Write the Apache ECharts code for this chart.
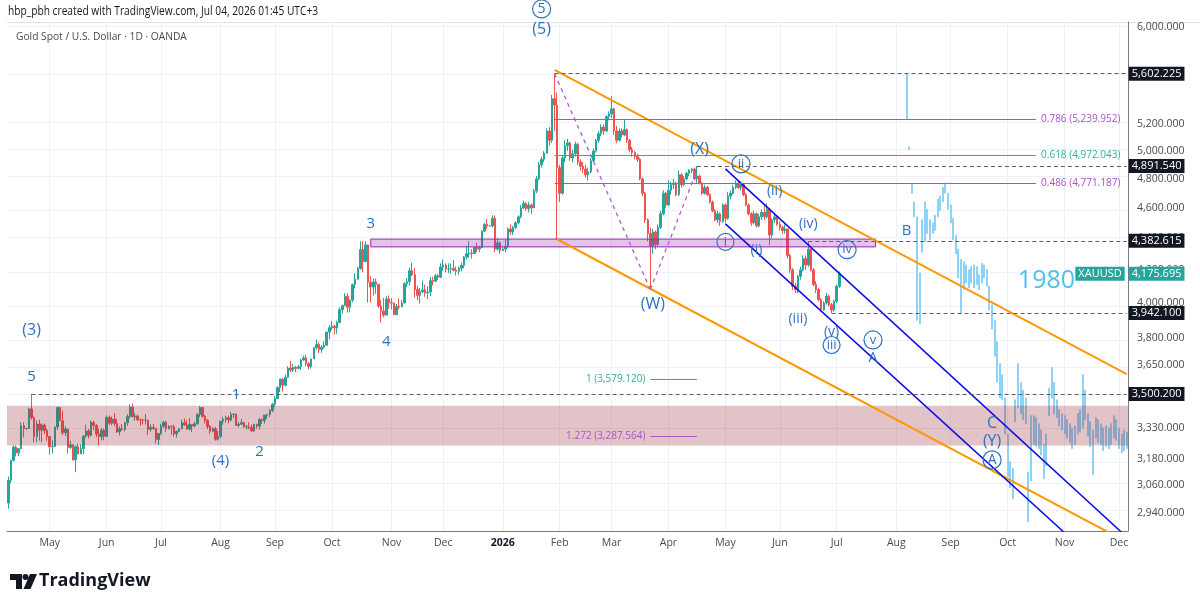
<!DOCTYPE html>
<html>
<head>
<meta charset="utf-8">
<script src="https://cdn.jsdelivr.net/npm/echarts@6/dist/echarts.min.js"></script>
<style>
  html, body { margin: 0; padding: 0; background: #fff; }
  #main { width: 1200px; height: 608px; }
</style>
</head>
<body>
<div id="main"></div>
<script>
// ---- data (daily bars, weekdays from 2025-04-09) ----
var monthNames = ['Jan', 'Feb', 'Mar', 'Apr', 'May', 'Jun', 'Jul', 'Aug', 'Sep', 'Oct', 'Nov', 'Dec'];
var yTicks = [6000, 5600, 5200, 5000, 4800, 4600, 4400, 4200, 4000, 3800, 3650, 3500, 3330, 3180, 3060, 2940];
var firstOpen = 2982;

var closes2025 = [
  3083,3175,3237,3210,3230,3341,3327,3327,3424,3381,3288,3349,3319,3344,3317,3288,
  3239,3241,3334,3431,3365,3306,3325,3235,3248,3177,3240,3205,3230,3290,3315,3294,3357,3342,3300,3288,3318,3289,
  3381,3353,3373,3352,3310,3326,3322,3355,3386,3433,3385,3389,3370,3369,3368,3368,3323,3332,3327,3274,3303,
  3338,3357,3326,3337,3336,3301,3313,3325,3355,3344,3324,3347,3339,3350,3397,3431,3387,3368,3337,3314,3326,3275,3289,
  3363,3373,3380,3369,3397,3398,3342,3348,3356,3335,3336,3332,3315,3347,3339,3371,3366,3393,3397,3416,3448,
  3476,3533,3578,3545,3587,3636,3625,3640,3634,3643,3679,3690,3660,3644,3685,3746,3764,3736,3749,3760,3833,3858,
  3866,3857,3887,3961,3985,4040,3976,4017,4110,4143,4209,4327,4251,4356,4125,4095,4126,4112,3982,3953,3930,4024,4002,
  4000,3932,3980,3977,4000,4115,4128,4195,4170,4080,4045,4067,4078,4060,4065,4134,4130,4163,4155,4218,
  4230,4205,4205,4208,4198,4190,4210,4228,4280,4300,4305,4302,4340,4330,4340,4445,4490,4480,4480,4530,4330,4370,4320
];
var highs2025 = [
  3100,3178,3245,3245,3234,3357,3357,3330,3430,3500,3386,3367,3370,3352,3352,3327,
  3270,3270,3337,3436,3435,3415,3338,3320,3266,3252,3245,3253,3250,3295,3345,3325,3366,3365,3348,3325,3330,3326,
  3392,3390,3385,3403,3375,3338,3349,3360,3398,3446,3451,3403,3395,3376,3374,3398,3368,3347,3350,3328,3305,
  3350,3365,3365,3344,3342,3346,3317,3330,3369,3375,3366,3377,3345,3360,3402,3439,3433,3394,3373,3345,3334,3334,3315,
  3363,3385,3390,3391,3409,3400,3400,3358,3374,3360,3345,3358,3346,3350,3351,3379,3376,3394,3399,3423,3454,
  3489,3539,3578,3565,3600,3646,3674,3657,3648,3652,3685,3703,3707,3667,3686,3749,3791,3777,3760,3782,3835,3872,
  3895,3875,3897,3975,3990,4059,4059,4022,4116,4179,4218,4380,4379,4381,4359,4161,4146,4147,4097,4019,4030,4041,4045,
  4030,4002,3995,4028,4020,4125,4149,4212,4245,4211,4102,4090,4135,4110,4100,4156,4157,4175,4174,4240,
  4265,4240,4240,4240,4260,4220,4220,4245,4285,4350,4380,4330,4345,4370,4350,4450,4500,4525,4485,4550,4550,4400,4380
];
var lows2025 = [
  2957,3070,3170,3193,3195,3229,3284,3320,3330,3370,3260,3260,3268,3261,3300,3268,
  3202,3207,3237,3320,3365,3295,3290,3208,3228,3174,3120,3207,3207,3204,3283,3278,3287,3320,3285,3245,3270,3270,
  3295,3345,3343,3338,3306,3293,3315,3313,3340,3377,3382,3366,3363,3340,3347,3347,3295,3312,3319,3255,3247,
  3296,3330,3310,3322,3296,3287,3283,3310,3323,3341,3320,3319,3310,3333,3345,3384,3381,3351,3324,3302,3309,3268,3268,
  3279,3345,3357,3353,3362,3378,3341,3332,3344,3331,3323,3323,3311,3311,3326,3321,3350,3351,3375,3384,3408,
  3435,3475,3510,3512,3540,3584,3614,3615,3614,3630,3626,3675,3646,3628,3633,3686,3736,3716,3718,3740,3758,3792,
  3843,3820,3823,3887,3940,3985,3945,3945,4005,4086,4140,4200,4185,4250,4003,4004,4045,4054,3972,3886,3917,3927,3965,
  3962,3930,3930,3964,3982,4005,4096,4105,4162,4032,4018,3997,4058,4037,4023,4040,4105,4130,4137,4150,
  4195,4185,4180,4175,4190,4165,4170,4190,4210,4265,4275,4270,4300,4310,4310,4340,4440,4460,4475,4470,4310,4320,4300
];
var closes2026 = [
  4330,4345,4460,4440,4470,4500,4540,4600,4630,4595,4620,4600,4715,4800,4900,4940,4985,5150,5080,5400,5350,4880,
  4700,4950,5040,5060,4950,4980,5050,4920,4890,4870,4830,4850,4930,5000,5080,5130,5180,5150,5260,5280,
  5320,5150,5080,5150,5120,5160,5080,5010,4990,4960,4940,4800,4700,4520,4430,4350,4440,4360,4470,4560,4700,4620,
  4720,4760,4770,4690,4830,4760,4800,4840,4860,4870,4800,4820,4770,4700,4740,4690,4640,4580,4520,4560,4510,4620,
  4530,4680,4700,4740,4770,4740,4760,4690,4620,4560,4500,4560,4480,4540,4570,4540,4590,4420,4520,4540,4490,
  4470,4450,4460,4290,4200,4100,4080,4160,4200,4270,4230,4330,4200,4110,4080,4020,3960,4000,4040,3990,3960,4010,
  4100,4175.695
];
var highs2026 = [
  4345,4390,4470,4490,4480,4510,4550,4620,4650,4640,4640,4630,4730,4820,4920,4960,5000,5170,5180,5430,5602,5450,
  4900,4970,5080,5090,5070,5010,5070,5060,4940,4920,4900,4880,4950,5020,5090,5150,5200,5200,5270,5300,
  5420,5330,5190,5170,5170,5235,5170,5090,5030,5000,4980,4950,4810,4710,4530,4470,4460,4450,4490,4580,4720,4710,
  4790,4780,4800,4780,4860,4840,4820,4850,4870,4880,4880,4891.5,4830,4780,4760,4750,4700,4650,4590,4580,4570,4630,
  4630,4710,4720,4760,4790,4790,4780,4770,4700,4630,4570,4580,4570,4560,4590,4620,4630,4600,4530,4560,4550,
  4510,4480,4490,4460,4300,4210,4120,4170,4220,4290,4290,4376,4340,4210,4130,4090,4030,4010,4060,4050,4000,4020,
  4110,4190
];
var lows2026 = [
  4320,4310,4340,4420,4420,4460,4490,4530,4590,4580,4570,4560,4600,4700,4790,4880,4920,4980,5040,5060,5150,4390,
  4640,4690,4920,5000,4930,4920,4960,4900,4860,4840,4810,4790,4840,4920,4990,5060,5110,5120,5140,5230,
  5250,5120,5060,5070,5100,5110,5060,4990,4960,4940,4920,4790,4680,4500,4380,4080,4300,4330,4350,4460,4550,4600,
  4610,4690,4730,4680,4680,4740,4750,4790,4820,4840,4790,4770,4760,4690,4690,4680,4630,4570,4510,4500,4480,4500,
  4500,4520,4660,4690,4730,4730,4720,4680,4610,4550,4480,4490,4470,4470,4520,4520,4530,4355,4400,4500,4480,
  4450,4430,4430,4270,4180,4078,4060,4058,4140,4190,4200,4220,4190,4100,4060,4010,3950,3955,3990,3980,3942,3950,
  4000,4090
];

// 1980 overlay, bars from index 347 on
var ghostStart = 347;
var ghostHigh = [
  5600,5030,4770,4640,4540,4180,4520,4640,4590,4520,4500,4550,4660,4680,4740,4771,4700,4620,4530,4420,
  4330,4265,4250,4230,4200,4220,4230,4220,4170,4240,4230,4200,4100,3990,3900,3780,3660,3600,3480,3300,
  3170,3140,3470,3660,3560,3520,3480,3120,3390,3390,3380,3350,3320,3250,3300,3530,3640,3560,3470,3420,
  3400,3390,3370,3350,3330,3340,3400,3420,3600,3520,3400,3360,3320,3380,3370,3350,3330,3340,3330,3350,
  3390,3370,3330,3300,3320,3310
];
var ghostLow = [
  5240,5010,4700,4540,3900,3880,4310,4380,4430,4390,4430,4450,4540,4580,4640,4700,4590,4500,4390,4300,
  4150,3940,4080,4120,4090,4120,4090,4110,4080,4120,4150,4100,3960,3850,3700,3560,3480,3470,3300,3100,
  3050,3000,3360,3430,3400,3370,3350,2900,3080,3250,3240,3230,3200,3090,3150,3390,3480,3400,3380,3340,
  3320,3300,3280,3260,3230,3250,3300,3310,3330,3370,3290,3240,3110,3280,3260,3250,3220,3240,3230,3250,
  3280,3270,3230,3210,3220,3230
];

// wave labels: text, bar index, price, circle size (0 = plain), font size
var waveLabels = [
  ['(3)', 9.4, 3845, 0, 16], ['5', 9.4, 3589, 0, 15], ['1', 88.3, 3495, 0, 15],
  ['(4)', 81.5, 3172, 0, 15], ['2', 96.5, 3215, 0, 15], ['3', 139.5, 4493, 0, 15],
  ['4', 146, 3778, 0, 15], ['5', 205.5, 6161, 18, 14], ['(5)', 205.5, 5982, 0, 16],
  ['(X)', 266.5, 5016, 0, 16], ['(W)', 248.5, 3990, 0, 16], ['ii', 283, 4907, 18, 13],
  ['(ii)', 296.3, 4716, 0, 14], ['(iv)', 309, 4493, 0, 14], ['i', 276.8, 4376, 17, 13],
  ['(i)', 289.2, 4324, 0, 14], ['iv', 324, 4326, 18, 13], ['(iii)', 305, 3908, 0, 14],
  ['(v)', 318.1, 3834, 0, 14], ['iii', 318.1, 3761, 17, 13], ['v', 334, 3789, 18, 13],
  ['A', 334, 3690, 0, 14], ['B', 346.5, 4447, 0, 15], ['C', 379.6, 3354, 0, 16],
  ['(Y)', 379.6, 3266, 0, 16], ['A', 379.6, 3177, 18, 14]
];

// dashed price levels and the bar they start from
var levelPrices = [5602.225, 4891.540, 4382.615, 3942.100, 3500.200];
var levelFrom = [211, 266, 309, 318, 9];
var lastPrice = 4175.695;

// ---- build ----
var L = Math.log;
var cats = [];
var d = new Date(Date.UTC(2025, 3, 9));
var end = new Date(Date.UTC(2026, 11, 4));
for (; d <= end; d.setUTCDate(d.getUTCDate() + 1)) {
  var wd = d.getUTCDay();
  if (wd === 0 || wd === 6) continue;
  cats.push(d.toISOString().slice(0, 10));
}
var lastIdx = cats.length - 1;
var monthStarts = {};
for (var i = 1; i < cats.length; i++) {
  if (cats[i].slice(5, 7) !== cats[i - 1].slice(5, 7)) monthStarts[i] = true;
}

var closes = closes2025.concat(closes2026);
var highs = highs2025.concat(highs2026);
var lows = lows2025.concat(lows2026);
var candles = cats.map(function (c, i) {
  if (i >= closes.length) return '-';
  var o = i ? closes[i - 1] : firstOpen;
  var cl = closes[i];
  return [L(o), L(cl), L(Math.min(lows[i], o, cl)), L(Math.max(highs[i], o, cl))];
});
var ghost = cats.map(function (c, i) {
  var k = i - ghostStart;
  if (k < 0 || k >= ghostHigh.length) return '-';
  return [L(ghostHigh[k]), L(ghostLow[k]), L(ghostLow[k]), L(ghostHigh[k])];
});

function fmt(p) {
  return p.toLocaleString('en-US', { minimumFractionDigits: 3, maximumFractionDigits: 3 });
}

var waveBlue = '#2d71c2';
var purple = '#b04fc9';
var teal = '#2fae97';
var FONT = '"Open Sans", "Noto Sans", sans-serif';
var clear = 'rgba(0,0,0,0)';

function seg(p1, p2, color, width, type) {
  return {
    type: 'line', data: [[p1[0], L(p1[1])], [p2[0], L(p2[1])]],
    symbol: 'none', silent: true, clip: true, z: 4,
    lineStyle: { color: color, width: width, type: type || 'solid' }
  };
}

var gridLines = yTicks.map(function (v) { return { yAxis: L(v) }; });
Object.keys(monthStarts).forEach(function (k) { gridLines.push({ xAxis: +k }); });

function boxLabel(text, bg, pos) {
  return { show: true, position: pos || 'end', distance: 2, formatter: text, color: '#fff',
           backgroundColor: bg, padding: [2, 3, 1, 3], fontSize: 11 };
}
var levelLines = levelPrices.map(function (v, i) {
  return [
    { coord: [levelFrom[i], L(v)], label: boxLabel(fmt(v), '#131722') },
    { coord: [lastIdx, L(v)] }
  ];
});

function fibLine(v, text, color, from, to, pos) {
  return [
    { coord: [from, L(v)], lineStyle: { color: color, width: 1, type: 'solid' },
      label: { show: true, position: pos, distance: 5, formatter: text, color: color, fontSize: 10 } },
    { coord: [to, L(v)] }
  ];
}

var option = {
  animation: false,
  backgroundColor: '#fff',
  textStyle: { fontFamily: FONT },
  grid: { left: 7, right: 72, top: 22, bottom: 77 },
  xAxis: {
    type: 'category', data: cats, boundaryGap: true,
    axisLine: { lineStyle: { color: '#787b86' } },
    axisTick: { show: false },
    splitLine: { show: false },
    axisLabel: {
      interval: function (i) { return !!monthStarts[i]; },
      formatter: function (v) {
        var m = +v.slice(5, 7) - 1;
        return m === 0 ? '{b|' + v.slice(0, 4) + '}' : monthNames[m];
      },
      color: '#4a4a4a', fontSize: 10.5, margin: 7,
      rich: { b: { fontWeight: 'bold', color: '#131722', fontSize: 10.5 } }
    }
  },
  yAxis: {
    type: 'value', position: 'right',
    min: L(2862), max: L(6044),
    axisLine: { show: true, lineStyle: { color: '#787b86' } },
    axisTick: { show: false },
    splitLine: { show: false },
    axisLabel: {
      customValues: yTicks.map(L),
      formatter: function (v) { return fmt(Math.exp(v)); },
      color: '#4a4a4a', fontSize: 10.5, margin: 9
    }
  },
  series: [
    { // grid
      type: 'line', data: [], silent: true,
      markLine: { z: 1, silent: true, symbol: ['none', 'none'], label: { show: false },
        lineStyle: { color: '#eef1f6', width: 1, type: 'solid' }, data: gridLines }
    },
    {
      name: 'XAUUSD', type: 'candlestick', data: candles, z: 2, barWidth: 2,
      itemStyle: { color: '#26a69a', color0: '#ef5350', borderColor: '#26a69a', borderColor0: '#ef5350', borderWidth: 1 }
    },
    {
      name: '1980', type: 'candlestick', data: ghost, z: 2, barWidth: 1.5,
      itemStyle: { color: '#8ed3f6', color0: '#8ed3f6', borderColor: '#8ed3f6', borderColor0: '#8ed3f6', borderWidth: 1 }
    },
    { // zones
      type: 'line', data: [], silent: true,
      markArea: { z: 3, silent: true, data: [
        [{ yAxis: L(3440), itemStyle: { color: 'rgba(150,40,55,0.28)' } }, { yAxis: L(3245) }],
        [{ coord: [140, L(4394)], itemStyle: { color: 'rgba(156,39,176,0.28)', borderColor: '#9c27b0', borderWidth: 1 } },
         { coord: [335, L(4344)] }]
      ] }
    },
    seg([211, 5633], [lastIdx, 3603], '#ff9800', 2),
    seg([212, 4393], [lastIdx, 2816], '#ff9800', 2),
    seg([277, 4871], [lastIdx, 2837], '#0a0ae6', 1.5),
    seg([277, 4493], [lastIdx, 2627], '#0a0ae6', 1.5),
    seg([211, 5602], [248, 4080], '#b35bd0', 1.3, [4, 4]),
    seg([248, 4080], [266, 4860], '#b35bd0', 1.3, [4, 4]),
    { // levels, fibs, price boxes
      type: 'line', data: [], silent: true,
      markLine: {
        z: 5, silent: true, symbol: ['none', 'none'],
        lineStyle: { color: '#5d606b', width: 1, type: [4, 3] },
        data: levelLines.concat([
          fibLine(5239.952, '0.786 (5,239.952)', purple, 211, 397, 'end'),
          fibLine(4972.043, '0.618 (4,972.043)', teal, 211, 397, 'end'),
          fibLine(4771.187, '0.486 (4,771.187)', purple, 211, 397, 'end'),
          fibLine(3579.120, '1 (3,579.120)', teal, 248, 266, 'start'),
          fibLine(3287.564, '1.272 (3,287.564)', purple, 248, 266, 'start'),
          [
            { coord: [321, L(lastPrice)], lineStyle: { color: clear }, label: boxLabel(fmt(lastPrice), '#26a69a') },
            { coord: [lastIdx, L(lastPrice)] }
          ],
          [
            { coord: [321, L(lastPrice)], lineStyle: { color: clear }, label: boxLabel('XAUUSD', '#26a69a', 'insideEnd') },
            { coord: [lastIdx, L(lastPrice)] }
          ]
        ])
      }
    },
    { // wave labels
      type: 'scatter', z: 6, clip: false, silent: true,
      itemStyle: { opacity: 1 },
      data: waveLabels.map(function (w) {
        return {
          value: [w[1], L(w[2])],
          symbol: 'circle', symbolSize: w[3],
          itemStyle: { color: clear, borderColor: waveBlue, borderWidth: 1.2, opacity: 1 },
          label: { show: true, position: 'inside', formatter: w[0], fontSize: w[4], color: waveBlue,
                   textBorderWidth: 0 }
        };
      }).concat([{
        value: [401.3, L(4132)], symbolSize: 0,
        label: { show: true, position: 'inside', formatter: '1980', fontSize: 25, color: '#4fc0f4', textBorderWidth: 0 }
      }])
    }
  ],
  graphic: [
    { type: 'text', x: 8, y: 12, scaleX: 0.85, style: { text: 'hbp_pbh created with TradingView.com, Jul 04, 2026 01:45 UTC+3',
      font: '12px ' + FONT, fill: '#131722', verticalAlign: 'middle' } },
    { type: 'line', shape: { x1: 7, y1: 22.5, x2: 1200, y2: 22.5 }, style: { stroke: '#e0e3eb', lineWidth: 1 } },
    { type: 'text', x: 16, y: 37, z: 10, scaleX: 0.93, style: { text: 'Gold Spot / U.S. Dollar · 1D · OANDA',
      font: '11px ' + FONT, fill: '#4a4a4a', verticalAlign: 'middle' } },
    { type: 'polygon', shape: { points: [[10, 574], [22, 574], [22, 589], [16, 589], [16, 580], [10, 580]] },
      style: { fill: '#131722' } },
    { type: 'circle', shape: { cx: 25.5, cy: 577, r: 3 }, style: { fill: '#131722' } },
    { type: 'polygon', shape: { points: [[30, 574], [37, 574], [30.5, 589], [23.5, 589]] }, style: { fill: '#131722' } },
    { type: 'text', x: 39, y: 581, style: { text: 'TradingView', font: 'bold 18px ' + FONT, fill: '#131722', verticalAlign: 'middle' } }
  ]
};

var chart = echarts.init(document.getElementById('main'));
chart.setOption(option);
</script>
</body>
</html>
